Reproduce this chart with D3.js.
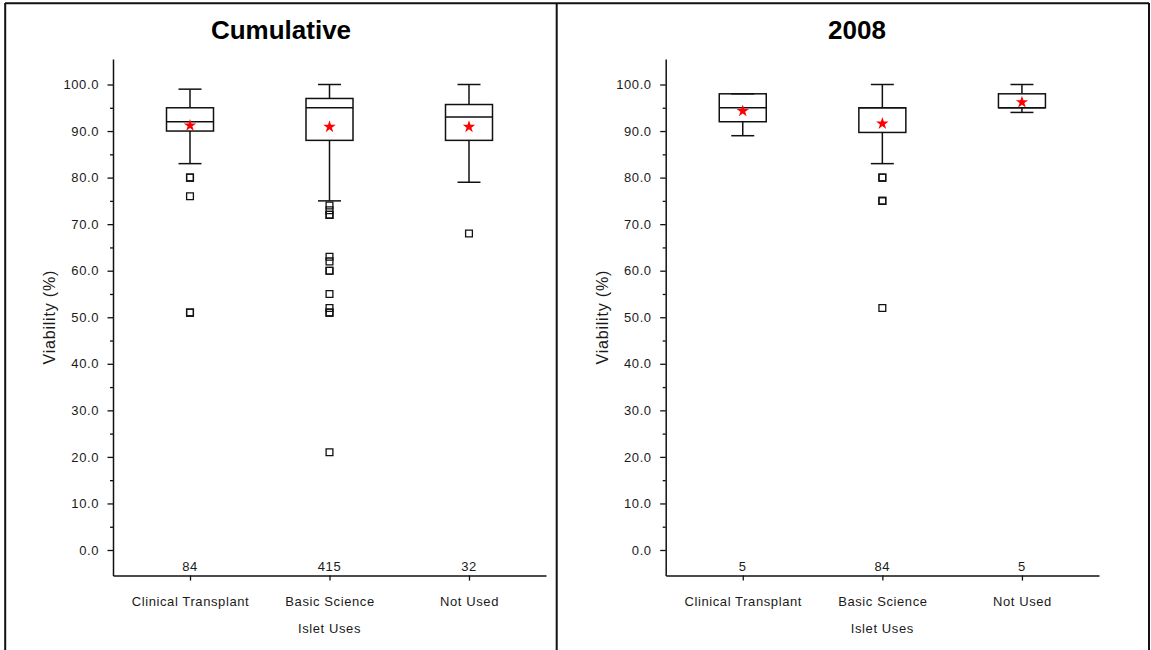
<!DOCTYPE html>
<html>
<head>
<meta charset="utf-8">
<script src="https://cdn.jsdelivr.net/npm/d3@7"></script>
<style>
  html, body { margin: 0; padding: 0; background: #fff; }
  svg { display: block; }
  text { font-family: "Liberation Sans", Arial, sans-serif; }
</style>
</head>
<body>
<svg id="chart" width="1151" height="650"></svg>
<script>
// Islet uses and their viability summaries
const categories = ["Clinical Transplant", "Basic Science", "Not Used"];
const yTicks = [0, 10, 20, 30, 40, 50, 60, 70, 80, 90, 100];
const yMinorTicks = [5, 15, 25, 35, 45, 55, 65, 75, 85, 95];

// Cumulative panel
const cumCounts = [84, 415, 32];
const cumWhiskerLow = [83, 75, 79];
const cumQ1 = [90, 88, 88];
const cumMedian = [92, 95, 93];
const cumQ3 = [95, 97, 95.7];
const cumWhiskerHigh = [99, 100, 100];
const cumMean = [91.2, 90.9, 90.9];
const cumOutliers = [
  [80, 80, 76, 51, 51],
  [74, 73, 72, 72, 63, 62, 60, 60, 55, 52, 51, 51, 21],
  [68]
];

// 2008 panel
const y08Counts = [5, 84, 5];
const y08WhiskerLow = [89, 83, 94];
const y08Q1 = [92, 89.7, 95];
const y08Median = [95, 95, 95];
const y08Q3 = [98, 95, 98];
const y08WhiskerHigh = [98, 100, 100];
const y08Mean = [94.3, 91.6, 96.2];
const y08Outliers = [
  [],
  [80, 80, 75, 75, 52],
  []
];

function buildRows(counts, lo, q1, med, q3, hi, mean, outliers) {
  return categories.map((c, i) => ({
    cat: c, n: counts[i], lo: lo[i], q1: q1[i], med: med[i],
    q3: q3[i], hi: hi[i], mean: mean[i], out: outliers[i]
  }));
}

const panels = [
  { title: "Cumulative", titleX: 281, x0: 113, x1: 546,
    rows: buildRows(cumCounts, cumWhiskerLow, cumQ1, cumMedian, cumQ3, cumWhiskerHigh, cumMean, cumOutliers) },
  { title: "2008", titleX: 857, x0: 665.7, x1: 1099,
    rows: buildRows(y08Counts, y08WhiskerLow, y08Q1, y08Median, y08Q3, y08WhiskerHigh, y08Mean, y08Outliers) }
];

const svg = d3.select("#chart");
const ink = "#111";
const textInk = "#1a1a1a";

// outer frame and panel divider
const frame = svg.append("g").attr("stroke", ink).attr("stroke-width", 2).attr("fill", "none");
frame.append("line").attr("x1", 5).attr("x2", 1149).attr("y1", 3.2).attr("y2", 3.2);
frame.append("line").attr("x1", 5.2).attr("x2", 5.2).attr("y1", 3).attr("y2", 652);
frame.append("line").attr("x1", 556.7).attr("x2", 556.7).attr("y1", 3).attr("y2", 652);
frame.append("line").attr("x1", 1149).attr("x2", 1149).attr("y1", 3).attr("y2", 652);

const y = d3.scaleLinear().domain([-5.5, 105.5]).range([575.6, 58.9]);

const boxHalf = 23.5;
const capHalf = 11.5;
const star = d3.symbol().type(d3.symbolStar).size(48);
const square = d3.symbol().type(d3.symbolSquare).size(46);

panels.forEach(p => {
  const g = svg.append("g");
  const x = d3.scalePoint().domain(categories).range([p.x0, p.x1]).padding(0.552);
  const midX = (p.x0 + p.x1) / 2;

  // title
  g.append("text")
    .attr("x", p.titleX).attr("y", 39)
    .attr("text-anchor", "middle")
    .attr("font-size", 26).attr("font-weight", "bold")
    .attr("fill", "#000")
    .text(p.title);

  // y axis, major and minor ticks
  const yAxis = g.append("g").attr("transform", `translate(${p.x0},0)`)
    .call(d3.axisLeft(y).tickValues(yTicks).tickFormat(d3.format(".1f"))
      .tickSize(5.5).tickSizeOuter(0).tickPadding(8.5));
  const yMinor = g.append("g").attr("transform", `translate(${p.x0},0)`)
    .call(d3.axisLeft(y).tickValues(yMinorTicks).tickFormat("").tickSize(3).tickSizeOuter(0));
  yMinor.select(".domain").remove();

  // x axis
  const xAxis = g.append("g").attr("transform", `translate(0,${y(-5.5)})`)
    .call(d3.axisBottom(x).tickSize(5).tickSizeOuter(0).tickPadding(16.3));

  [yAxis, yMinor, xAxis].forEach(a => {
    a.selectAll(".domain").attr("stroke", ink).attr("stroke-width", 1.5);
    a.selectAll(".tick line").attr("stroke", ink).attr("stroke-width", 1.3);
    a.selectAll("text").attr("font-size", 13).attr("letter-spacing", "0.6px")
      .attr("fill", textInk).attr("font-family", "'Liberation Sans', Arial, sans-serif");
  });

  // axis titles
  g.append("text")
    .attr("transform", `translate(${p.x0 - 63.3},${(y(-5.5) + y(105.5)) / 2}) rotate(-90)`)
    .attr("text-anchor", "middle").attr("dy", "0.35em")
    .attr("font-size", 16).attr("letter-spacing", "0.8px").attr("fill", textInk)
    .text("Viability (%)");
  g.append("text")
    .attr("x", midX).attr("y", 633)
    .attr("text-anchor", "middle")
    .attr("font-size", 13).attr("letter-spacing", "0.6px").attr("fill", textInk)
    .text("Islet Uses");

  // sample sizes
  g.selectAll(".count").data(p.rows).join("text")
    .attr("class", "count")
    .attr("x", d => x(d.cat)).attr("y", 571)
    .attr("text-anchor", "middle")
    .attr("font-size", 13).attr("letter-spacing", "0.6px").attr("fill", textInk)
    .text(d => d.n);

  // box plots
  const box = g.selectAll(".box").data(p.rows).join("g")
    .attr("class", "box")
    .attr("fill", "none").attr("stroke", ink).attr("stroke-width", 1.5);

  box.append("line")
    .attr("x1", d => x(d.cat)).attr("x2", d => x(d.cat))
    .attr("y1", d => y(d.q3)).attr("y2", d => y(d.hi));
  box.append("line")
    .attr("x1", d => x(d.cat)).attr("x2", d => x(d.cat))
    .attr("y1", d => y(d.q1)).attr("y2", d => y(d.lo));
  box.append("rect")
    .attr("x", d => x(d.cat) - boxHalf).attr("width", boxHalf * 2)
    .attr("y", d => y(d.q3)).attr("height", d => y(d.q1) - y(d.q3));
  box.append("line")
    .attr("x1", d => x(d.cat) - boxHalf).attr("x2", d => x(d.cat) + boxHalf)
    .attr("y1", d => y(d.med)).attr("y2", d => y(d.med));
  box.append("line")
    .attr("x1", d => x(d.cat) - capHalf).attr("x2", d => x(d.cat) + capHalf)
    .attr("y1", d => y(d.hi)).attr("y2", d => y(d.hi));
  box.append("line")
    .attr("x1", d => x(d.cat) - capHalf).attr("x2", d => x(d.cat) + capHalf)
    .attr("y1", d => y(d.lo)).attr("y2", d => y(d.lo));

  // outliers as open squares
  box.selectAll(".out").data(d => d.out.map(v => ({ cat: d.cat, v }))).join("path")
    .attr("class", "out")
    .attr("d", square)
    .attr("stroke-width", 1.3)
    .attr("transform", d => `translate(${x(d.cat)},${y(d.v)})`);

  // means as red stars
  g.selectAll(".mean").data(p.rows).join("path")
    .attr("class", "mean")
    .attr("d", star)
    .attr("fill", "#ff0000")
    .attr("transform", d => `translate(${x(d.cat)},${y(d.mean)})`);
});
</script>
</body>
</html>
